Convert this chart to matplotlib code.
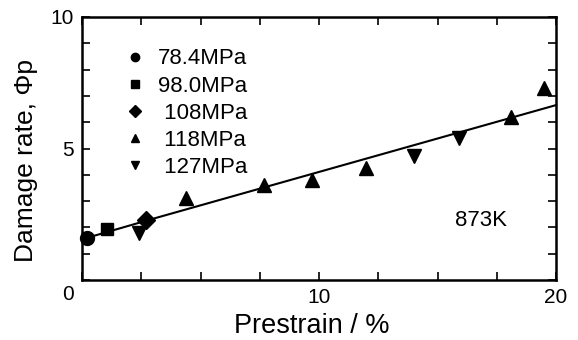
import numpy as np
import matplotlib
matplotlib.use("Agg")
from matplotlib import pyplot as plt
from matplotlib import transforms

plt.rcParams['font.family'] = ['Liberation Sans', 'DejaVu Sans']

# measured points, one list per stress level
x_784 = [0.2]
y_784 = [1.6]
x_980 = [1.05]
y_980 = [1.95]
x_108 = [2.7]
y_108 = [2.3]
x_118 = [4.4, 7.7, 9.7, 12.0, 18.1, 19.5]
y_118 = [3.1, 3.6, 3.8, 4.25, 6.2, 7.3]
x_127 = [2.4, 14.0, 15.9]
y_127 = [1.8, 4.7, 5.4]

# fitted line
fit_x = [0.2, 3.0, 20.0]
fit_y = [1.6, 2.33, 6.65]

labels = ['78.4MPa', '98.0MPa', ' 108MPa', ' 118MPa', ' 127MPa']

fig = plt.figure(figsize=(5.78, 3.4), dpi=100)
ax = fig.add_axes([82 / 578, 60 / 340, 474 / 578, 263 / 340])

ax.plot(fit_x, fit_y, color='black', lw=1.5, zorder=2)

kw = dict(color='black', linestyle='none', clip_on=False, zorder=3)
h1, = ax.plot(x_784, y_784, marker='o', ms=10, **kw)
h2, = ax.plot(x_980, y_980, marker='s', ms=9, **kw)
h3, = ax.plot(x_108, y_108, marker='D', ms=9.5, **kw)
h4, = ax.plot(x_118, y_118, marker='^', ms=10.5, **kw)
h5, = ax.plot(x_127, y_127, marker='v', ms=10.5, **kw)

leg = ax.legend([h1, h2, h3, h4, h5], labels, loc='upper left',
                bbox_to_anchor=(0.055, 0.94), frameon=False, fontsize=16,
                markerscale=0.6, handlelength=1.0, handletextpad=0.55,
                labelspacing=0.28, borderpad=0.2)

ax.text(0.787, 0.228, '873K', transform=ax.transAxes, fontsize=16, va='center')

ax.set_xlim(0, 20)
ax.set_ylim(0, 10)
ax.set_xticks(np.arange(0, 20.1, 2.5))
ax.set_xticklabels(['', '', '', '', '10', '', '', '', '20'])
ax.set_yticks(np.arange(0, 10.1, 1))
ax.set_yticklabels(['0', '', '', '', '', '5', '', '', '', '', '10'])
ax.tick_params(direction='in', length=6, width=1.2, top=True, right=True,
               labelsize=15, pad=6)
for s in ax.spines.values():
    s.set_linewidth(1.8)

# the "0" sits under the corner
zero = ax.get_yticklabels()[0]
zero.set_transform(zero.get_transform() +
                   transforms.ScaledTranslation(0, -13 / 100, fig.dpi_scale_trans))

ax.set_xlabel('Prestrain / %', fontsize=19.5, va='center')
ax.xaxis.set_label_coords(0.485, -0.175)
ax.set_ylabel('Damage rate, Φp', fontsize=19, va='center')
ax.yaxis.set_label_coords(-0.118, 0.456)

fig.savefig('out.png', dpi=100)
